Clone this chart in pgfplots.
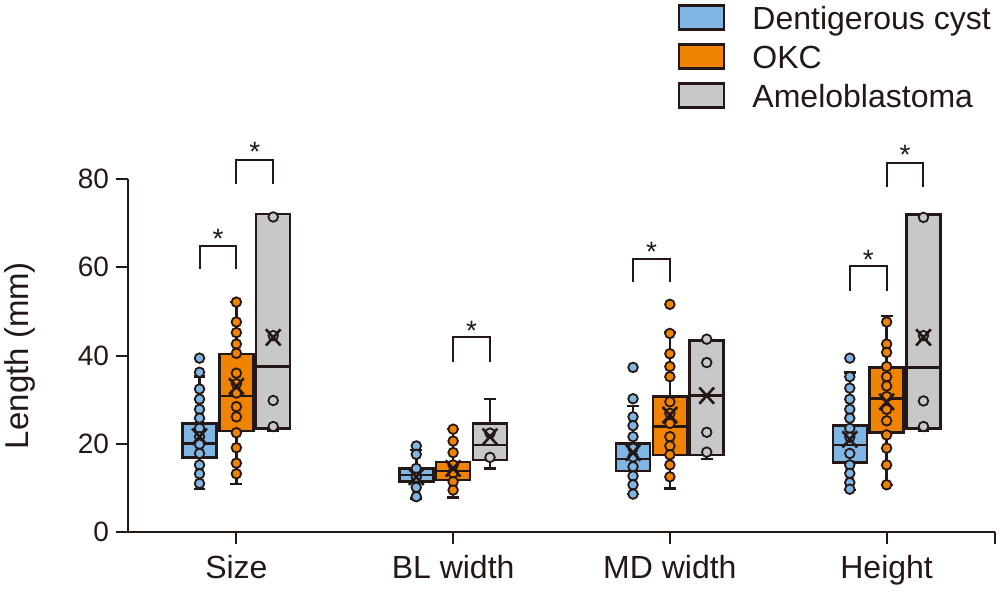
\documentclass[border=0pt]{standalone}
\usepackage{fontspec}
\setmainfont{Liberation Sans}
\usepackage{pgfplots}
\pgfplotsset{compat=1.18}
\usepgfplotslibrary{statistics}
\definecolor{dcblue}{RGB}{127,182,227}
\definecolor{okcorange}{RGB}{240,131,0}
\definecolor{amgray}{RGB}{200,200,200}
\definecolor{ink}{RGB}{35,24,21}
\pgfplotsset{
  ptdots/.style={only marks, mark=*, mark size=2.4pt, mark options={fill=#1, draw=ink, line width=0.9pt}, forget plot},
  brk/.style={ink, line width=1pt, sharp plot, mark=none, forget plot},
}
\begin{document}
\begin{tikzpicture}
\useasboundingbox (0,0) rectangle (500pt,296pt);
\begin{axis}[
  at={(64pt,30pt)}, anchor=south west,
  scale only axis, width=433.5pt, height=176.5pt,
  xmin=-0.5, xmax=3.5, ymin=0, ymax=80,
  clip=false,
  axis x line*=bottom, axis y line*=left,
  axis line style={ink, line width=1pt},
  xtick={0,1,2,3}, xticklabels={Size,BL width,MD width,Height},
  extra x ticks={3.5}, extra x tick labels={},
  ytick={0,20,40,60,80},
  tick align=outside, major tick length=6pt,
  tick style={ink, line width=1pt},
  /pgf/number format/assume math mode=true,
  xticklabel style={font=\fontsize{16}{19}\selectfont, text=ink, yshift=-2pt},
  yticklabel style={font=\fontsize{14}{17}\selectfont, text=ink},
  ylabel={Length (mm)},
  every axis y label/.style={at={(axis description cs:-0.1246,0.5)}, rotate=90, anchor=center,
    font=\fontsize{16.5}{19}\selectfont, text=ink},
  legend style={at={(axis description cs:0.634,1.496)}, anchor=north west, draw=none, fill=none,
    inner sep=0pt, font=\fontsize{16}{19}\selectfont, text=ink, column sep=13.5pt,
    nodes={inner sep=0pt, text height=12pt, text depth=6.75pt}},
  legend cell align=left,
  legend image code/.code={\draw[#1] (0pt,-2.5pt) rectangle (22.5pt,9.5pt);},
  boxplot/draw direction=y,
]
\addlegendimage{fill=dcblue, draw=ink, line width=1.2pt}
\addlegendentry{Dentigerous cyst}
\addlegendimage{fill=okcorange, draw=ink, line width=1.2pt}
\addlegendentry{OKC}
\addlegendimage{fill=amgray, draw=ink, line width=1.2pt}
\addlegendentry{Ameloblastoma}

% ---- boxes: Dentigerous cyst
\addplot+[forget plot, mark=none, fill=dcblue, draw=ink, line width=1.25pt,
  boxplot prepared={draw position=-0.17, lower whisker=9.7, lower quartile=16.9, median=20.0, upper quartile=24.6, upper whisker=35.2, box extend=0.157, whisker extend=0.055}] coordinates {};
\addplot+[forget plot, mark=none, fill=dcblue, draw=ink, line width=1.25pt,
  boxplot prepared={draw position=0.83, lower whisker=7.6, lower quartile=11.4, median=12.9, upper quartile=14.4, upper whisker=18.6, box extend=0.157, whisker extend=0.055}] coordinates {};
\addplot+[forget plot, mark=none, fill=dcblue, draw=ink, line width=1.25pt,
  boxplot prepared={draw position=1.83, lower whisker=8.6, lower quartile=13.8, median=16.5, upper quartile=20.1, upper whisker=28.6, box extend=0.157, whisker extend=0.055}] coordinates {};
\addplot+[forget plot, mark=none, fill=dcblue, draw=ink, line width=1.25pt,
  boxplot prepared={draw position=2.83, lower whisker=9.5, lower quartile=15.7, median=19.7, upper quartile=24.1, upper whisker=36.1, box extend=0.157, whisker extend=0.055}] coordinates {};
% ---- boxes: OKC
\addplot+[forget plot, mark=none, fill=okcorange, draw=ink, line width=1.25pt,
  boxplot prepared={draw position=0, lower whisker=10.9, lower quartile=22.9, median=30.8, upper quartile=40.3, upper whisker=52.1, box extend=0.157, whisker extend=0.055}] coordinates {};
\addplot+[forget plot, mark=none, fill=okcorange, draw=ink, line width=1.25pt,
  boxplot prepared={draw position=1, lower whisker=7.8, lower quartile=11.8, median=13.8, upper quartile=15.9, upper whisker=23.3, box extend=0.157, whisker extend=0.055}] coordinates {};
\addplot+[forget plot, mark=none, fill=okcorange, draw=ink, line width=1.25pt,
  boxplot prepared={draw position=2, lower whisker=9.9, lower quartile=17.5, median=23.9, upper quartile=30.7, upper whisker=45.2, box extend=0.157, whisker extend=0.055}] coordinates {};
\addplot+[forget plot, mark=none, fill=okcorange, draw=ink, line width=1.25pt,
  boxplot prepared={draw position=3, lower whisker=10.7, lower quartile=22.5, median=30.3, upper quartile=37.3, upper whisker=49.0, box extend=0.157, whisker extend=0.055}] coordinates {};
% ---- boxes: Ameloblastoma
\addplot+[forget plot, mark=none, fill=amgray, draw=ink, line width=1.25pt,
  boxplot prepared={draw position=0.17, lower whisker=23.0, lower quartile=23.4, median=37.5, upper quartile=72.1, upper whisker=72.1, box extend=0.157, whisker extend=0.055}] coordinates {};
\addplot+[forget plot, mark=none, fill=amgray, draw=ink, line width=1.25pt,
  boxplot prepared={draw position=1.17, lower whisker=14.4, lower quartile=16.3, median=19.7, upper quartile=24.6, upper whisker=30.1, box extend=0.157, whisker extend=0.055}] coordinates {};
\addplot+[forget plot, mark=none, fill=amgray, draw=ink, line width=1.25pt,
  boxplot prepared={draw position=2.17, lower whisker=16.5, lower quartile=17.5, median=30.9, upper quartile=43.4, upper whisker=43.4, box extend=0.157, whisker extend=0.055}] coordinates {};
\addplot+[forget plot, mark=none, fill=amgray, draw=ink, line width=1.25pt,
  boxplot prepared={draw position=3.17, lower whisker=23.0, lower quartile=23.4, median=37.3, upper quartile=72.0, upper whisker=72.0, box extend=0.157, whisker extend=0.055}] coordinates {};

% ---- individual points
\addplot[ptdots=dcblue] coordinates {
 (-0.17,39.4) (-0.17,36.2) (-0.17,32.4) (-0.17,30.1) (-0.17,27.8) (-0.17,25.8) (-0.17,23.5) (-0.17,21.6) (-0.17,19.9) (-0.17,17.8) (-0.17,15.2) (-0.17,13.2) (-0.17,11.0)
 (0.83,19.5) (0.83,17.6) (0.83,14.4) (0.83,12.4) (0.83,10.1) (0.83,8.0)
 (1.83,37.3) (1.83,30.2) (1.83,26.1) (1.83,24.1) (1.83,21.6) (1.83,19.0) (1.83,17.0) (1.83,14.8) (1.83,12.7) (1.83,10.7) (1.83,8.6)
 (2.83,39.4) (2.83,35.2) (2.83,32.6) (2.83,30.1) (2.83,27.8) (2.83,25.8) (2.83,23.5) (2.83,21.5) (2.83,17.8) (2.83,15.2) (2.83,13.3) (2.83,11.2) (2.83,9.7)
};
\addplot[ptdots=okcorange] coordinates {
 (0,52.1) (0,47.6) (0,45.2) (0,42.6) (0,40.5) (0,36.0) (0,33.6) (0,31.5) (0,28.4) (0,26.1) (0,22.5) (0,19.1) (0,15.6) (0,13.2)
 (1,23.3) (1,20.6) (1,18.0) (1,15.2) (1,13.4) (1,11.4) (1,9.5)
 (2,51.6) (2,45.0) (2,40.4) (2,37.5) (2,35.2) (2,29.5) (2,26.9) (2,24.6) (2,21.6) (2,19.5) (2,17.5) (2,15.2) (2,12.5)
 (3,47.6) (3,42.6) (3,40.7) (3,37.5) (3,35.2) (3,33.1) (3,30.7) (3,27.8) (3,25.2) (3,22.0) (3,19.0) (3,15.2) (3,10.7)
};
\addplot[ptdots=amgray] coordinates {
 (0.17,71.4) (0.17,44.5) (0.17,29.8) (0.17,23.9)
 (1.17,22.4) (1.17,16.9)
 (2.17,43.7) (2.17,38.4) (2.17,22.6) (2.17,18.1)
 (3.17,71.3) (3.17,44.5) (3.17,29.7) (3.17,23.9)
};
% ---- means
\addplot[only marks, mark=x, mark size=5.2pt, mark options={draw=ink, line width=1.3pt, yscale=1.1}, forget plot] coordinates {
 (-0.17,21.6) (0,33.0) (0.17,44.1)
 (0.83,12.5) (1,14.4) (1.17,21.6)
 (1.83,18.0) (2,26.5) (2.17,30.9)
 (2.83,21.0) (3,29.5) (3.17,44.1)
};
% ---- significance brackets
\addplot[brk] coordinates {(-0.17,59.6) (-0.17,64.9) (0,64.9) (0,59.6)};
\addplot[brk] coordinates {(0,78.9) (0,84.4) (0.17,84.4) (0.17,78.9)};
\addplot[brk] coordinates {(1,38.6) (1,44.1) (1.17,44.1) (1.17,38.6)};
\addplot[brk] coordinates {(1.83,56.6) (1.83,61.9) (2,61.9) (2,56.6)};
\addplot[brk] coordinates {(2.83,54.7) (2.83,60.2) (3,60.2) (3,54.7)};
\addplot[brk] coordinates {(3,78.3) (3,83.7) (3.17,83.7) (3.17,78.3)};
\begin{scope}[every node/.style={font=\fontsize{14}{17}\selectfont, text=ink, inner sep=0pt, yshift=-3pt}]
\node at (axis cs:-0.085,67.8) {*};
\node at (axis cs:0.085,87.4) {*};
\node at (axis cs:1.085,46.9) {*};
\node at (axis cs:1.915,64.9) {*};
\node at (axis cs:2.915,63.0) {*};
\node at (axis cs:3.085,86.8) {*};
\end{scope}
\end{axis}
\end{tikzpicture}
\end{document}
